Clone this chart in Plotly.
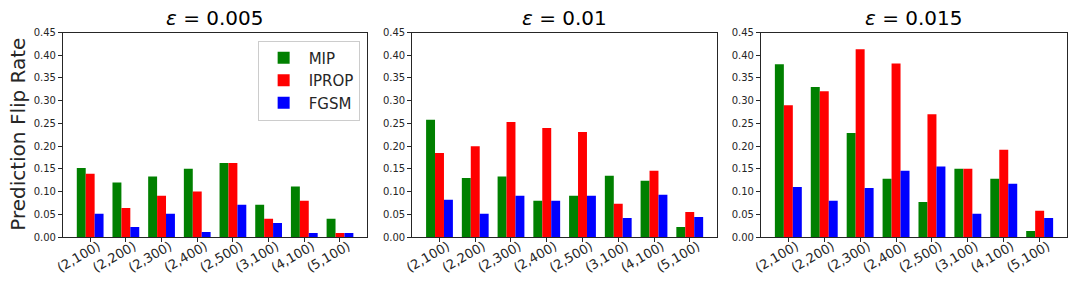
import plotly.graph_objects as go
from plotly.subplots import make_subplots

# configurations (layers, neurons) on the x axis
configs = ['(2,100)', '(2,200)', '(2,300)', '(2,400)', '(2,500)', '(3,100)', '(4,100)', '(5,100)']
epsilons = ['0.005', '0.01', '0.015']

# prediction flip rate
mip_005 = [0.152, 0.120, 0.133, 0.150, 0.163, 0.071, 0.111, 0.040]
iprop_005 = [0.139, 0.064, 0.091, 0.100, 0.163, 0.040, 0.080, 0.009]
fgsm_005 = [0.051, 0.022, 0.051, 0.011, 0.071, 0.031, 0.009, 0.009]

mip_01 = [0.258, 0.130, 0.133, 0.080, 0.091, 0.135, 0.124, 0.022]
iprop_01 = [0.185, 0.200, 0.253, 0.240, 0.231, 0.073, 0.146, 0.055]
fgsm_01 = [0.082, 0.051, 0.091, 0.080, 0.091, 0.042, 0.093, 0.044]

mip_015 = [0.380, 0.330, 0.229, 0.128, 0.077, 0.150, 0.128, 0.013]
iprop_015 = [0.290, 0.321, 0.413, 0.382, 0.270, 0.150, 0.192, 0.058]
fgsm_015 = [0.110, 0.080, 0.108, 0.146, 0.155, 0.051, 0.117, 0.042]

panels = [(mip_005, iprop_005, fgsm_005),
          (mip_01, iprop_01, fgsm_01),
          (mip_015, iprop_015, fgsm_015)]
methods = ['MIP', 'IPROP', 'FGSM']
colors = ['#008000', '#ff0000', '#0000ff']

fig = make_subplots(rows=1, cols=3)
xpos = list(range(len(configs)))

for i, vals in enumerate(panels):
    for name, v, c in zip(methods, vals, colors):
        fig.add_trace(go.Bar(x=xpos, y=v, name=name, marker=dict(color=c, line=dict(width=0)),
                             showlegend=(i == 0)), row=1, col=i+1)

domains = [[0.0583, 0.3400], [0.3817, 0.6639], [0.7046, 0.9880]]
for i in range(3):
    fig.update_xaxes(domain=domains[i], range=[-0.7625, 7.7625], tickvals=xpos, ticktext=configs,
                     tickangle=-30, tickfont=dict(size=13, color='#262626'), automargin=False,
                     ticklabelshift=8, ticklabelstandoff=-8,
                     showline=True, linecolor='#262626', linewidth=1, mirror=True,
                     ticks='outside', ticklen=4, tickcolor='#262626', showgrid=False, zeroline=False,
                     row=1, col=i+1)
    fig.update_yaxes(domain=[0.177, 0.887], range=[0, 0.45], tickvals=[k*0.05 for k in range(10)],
                     tickformat='.2f', tickfont=dict(size=10, color='#262626'), automargin=False,
                     showline=True, linecolor='#262626', linewidth=1, mirror=True,
                     ticks='outside', ticklen=4, tickcolor='#262626', showgrid=False, zeroline=False,
                     row=1, col=i+1)
    mid = (domains[i][0] + domains[i][1]) / 2
    fig.add_annotation(text='<i>ε</i> = ' + epsilons[i], x=mid, y=0.888, xref='paper', yref='paper',
                       xanchor='center', yanchor='bottom', showarrow=False,
                       font=dict(size=20, color='black'))

fig.add_annotation(text='Prediction Flip Rate', x=0.0167, y=0.532, xref='paper', yref='paper',
                   xanchor='center', yanchor='middle',
                   textangle=-90, showarrow=False, font=dict(size=20, color='#262626'))

fig.update_layout(
    width=1080, height=288,
    margin=dict(l=0, r=0, t=0, b=0, autoexpand=False),
    plot_bgcolor='white', paper_bgcolor='white',
    font=dict(family='DejaVu Sans'),
    barmode='group', bargap=0.25, bargroupgap=0,
    legend=dict(x=0.333, y=0.859, xanchor='right', yanchor='top', itemwidth=40,
                bgcolor='white', bordercolor='#cccccc', borderwidth=1,
                font=dict(size=15, color='#262626'), traceorder='normal'),
)

# drop the browser's default page margin so the figure sits at (0, 0)
fig.write_html("out.html", config={'displayModeBar': False},
               post_script="document.body.style.margin='0';")
